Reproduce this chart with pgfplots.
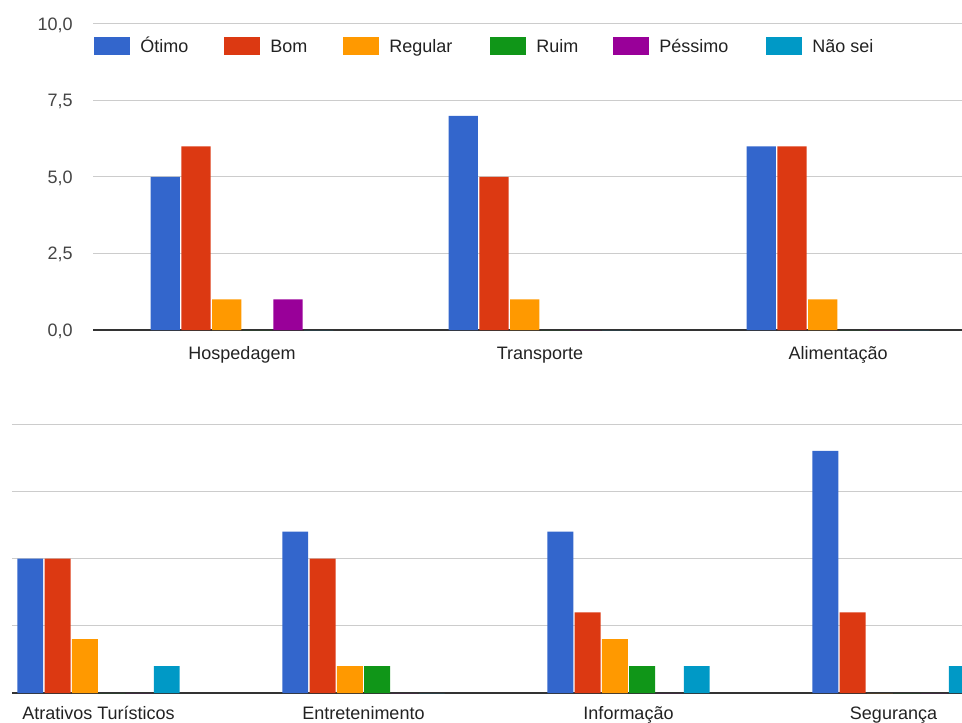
\documentclass[border=0pt]{standalone}
\usepackage{fontspec}
\setmainfont{Liberation Sans}
\usepackage{pgfplots}
\pgfplotsset{compat=1.18}
\definecolor{cOt}{HTML}{3366CC}
\definecolor{cBo}{HTML}{DC3912}
\definecolor{cRe}{HTML}{FF9900}
\definecolor{cRu}{HTML}{109618}
\definecolor{cPe}{HTML}{990099}
\definecolor{cNs}{HTML}{0099C6}
\definecolor{gridc}{HTML}{CCCCCC}
\definecolor{basec}{HTML}{333333}
\definecolor{txt}{HTML}{222222}
\definecolor{tickc}{HTML}{444444}
\pgfplotsset{
  mybar/.style 2 args={ybar, bar width=0.098, bar shift=#2, fill=#1, draw=none,
    legend image code/.code={\fill[#1] (0pt,-6.4pt) rectangle (27pt,6.4pt);}},
  common/.style={
    scale only axis,
    enlargelimits=false,
    ymin=0, ymax=10,
    ytick={2.5,5,7.5,10},
    ymajorgrids,
    major grid style={gridc, line width=0.75pt},
    axis line style={draw=none},
    major tick length=0pt,
    extra y ticks={0},
    extra y tick style={ymajorgrids=true, major grid style={basec, line width=1.5pt}},
    tick label style={font=\fontsize{13.5}{16}\selectfont, color=txt},
    yticklabel style={anchor=east, inner sep=0pt, xshift=-15pt, color=tickc, text depth=0pt},
    /pgf/number format/use comma,
    /pgf/number format/fixed,
    /pgf/number format/fixed zerofill,
    /pgf/number format/precision=1,
    /pgf/number format/assume math mode=true,
  },
}
\begin{document}
\begin{tikzpicture}
\useasboundingbox (0pt,0pt) rectangle (721.5pt,541.5pt);
\begin{axis}[common, at={(69.75pt,294pt)}, anchor=south west,
  width=651.75pt, height=229.5pt,
  xmin=-0.5, xmax=2.416,
  xtick={0,1,2},
  xticklabels={Hospedagem,Transporte,Alimentação},
  xticklabel style={anchor=base, inner sep=0pt, yshift=-21.75pt},
  legend columns=6,
  legend style={at={(0.0012,0.928)}, anchor=west, draw=none, fill=none,
    inner sep=0pt, column sep=0pt, font=\fontsize{13.5}{16}\selectfont, text=txt,
    nodes={inner sep=0pt, text height=9pt, text depth=0pt},
    /tikz/every odd column/.append style={column sep=7.5pt}},
]
\addplot[mybar={cOt}{-0.2575}] coordinates {(0,5) (1,7) (2,6)};
\addlegendentry{\makebox[63pt][l]{Ótimo}}
\addplot[mybar={cBo}{-0.1545}] coordinates {(0,6) (1,5) (2,6)};
\addlegendentry{\makebox[54.75pt][l]{Bom}}
\addplot[mybar={cRe}{-0.0515}] coordinates {(0,1) (1,1) (2,1)};
\addlegendentry{\makebox[75.75pt][l]{Regular}}
\addplot[mybar={cRu}{0.0515}] coordinates {(0,0) (1,0) (2,0)};
\addlegendentry{\makebox[57.75pt][l]{Ruim}}
\addplot[mybar={cPe}{0.1545}] coordinates {(0,1) (1,0) (2,0)};
\addlegendentry{\makebox[80.25pt][l]{Péssimo}}
\addplot[mybar={cNs}{0.2575}] coordinates {(0,0) (1,0) (2,0)};
\addlegendentry{Não sei}
\end{axis}
\begin{axis}[common, at={(9pt,21.75pt)}, anchor=south west,
  width=712.5pt, height=201.75pt,
  xmin=-0.3264, xmax=3.2585,
  xtick={0,1,2,3},
  xticklabels={Atrativos Turísticos,Entretenimento,Informação,Segurança},
  yticklabels={}, extra y tick labels={},
  xticklabel style={anchor=base, inner sep=0pt, yshift=-19.5pt},
]
\addplot[mybar={cOt}{-0.2575}] coordinates {(0,5) (1,6) (2,6) (3,9)};
\addplot[mybar={cBo}{-0.1545}] coordinates {(0,5) (1,5) (2,3) (3,3)};
\addplot[mybar={cRe}{-0.0515}] coordinates {(0,2) (1,1) (2,2) (3,0)};
\addplot[mybar={cRu}{0.0515}] coordinates {(0,0) (1,1) (2,1) (3,0)};
\addplot[mybar={cPe}{0.1545}] coordinates {(0,0) (1,0) (2,0) (3,0)};
\addplot[mybar={cNs}{0.2575}] coordinates {(0,1) (1,0) (2,1) (3,1)};
\end{axis}
\end{tikzpicture}
\end{document}
